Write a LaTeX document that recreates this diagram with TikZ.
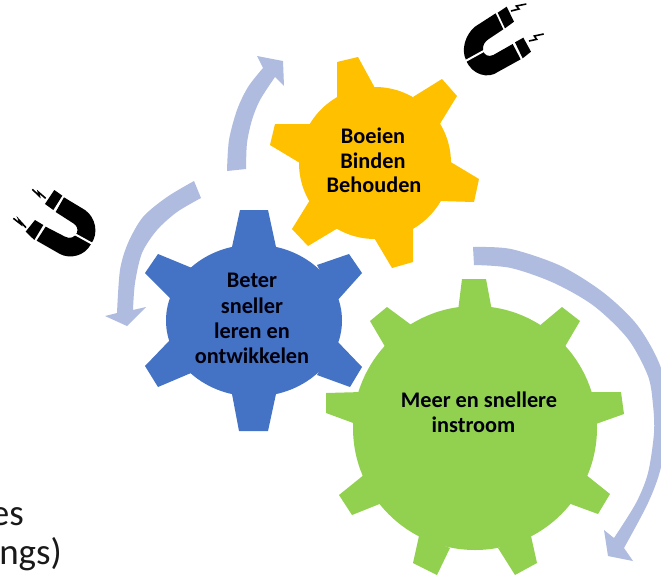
\documentclass[tikz,border=0pt]{standalone}
\usepackage{fontspec}
\setmainfont{Carlito}
\definecolor{gearyellow}{HTML}{FFC000}
\definecolor{gearblue}{HTML}{4472C4}
\definecolor{geargreen}{HTML}{92D050}
\definecolor{bandblue}{HTML}{AFBCDF}
\tikzset{
  gearlabel/.style={anchor=base,inner sep=0pt,font=\fontsize{22.3}{24}\selectfont\bfseries,text=black!95!blue},
  cutoff/.style={anchor=base east,inner sep=0pt,font=\fontsize{37}{40}\selectfont,text=black!90},
  band/.style={fill=bandblue},
  bolt/.style={draw=black,line width=1.6pt,line join=miter},
  polecut/.style={draw=white,line width=2pt}
}
\begin{document}
\begin{tikzpicture}[x=1pt,y=-1pt]
\useasboundingbox (0,0) rectangle (661,576);
\fill[white] (0,0) rectangle (661,576);
% arrows
\fill[band] plot[smooth] coordinates {(473,247) (511,249) (561,266) (604,293) (638,326) (661,368) (668,415) (661,467) (648,503) (624,548)}
  -- (633,561) -- (608,556) -- (604,530)
  -- plot[smooth] coordinates {(614,538) (636,503) (648,473) (654,433) (653,405) (648,376) (628,339) (594,306) (554,283) (511,268) (474,265)} -- cycle;
\fill[band] plot[smooth] coordinates {(227,171) (229,140) (237,110) (248,87) (263,68)}
  -- (257,56) -- (283,61) -- (284,86)
  -- plot[smooth] coordinates {(275,77) (260,100) (252,120) (247,143) (246,169)} -- cycle;
\fill[band] plot[smooth] coordinates {(194,181) (167,197) (143,217) (128,243) (120,270) (117,313)}
  -- (105,316) -- (127,326) -- (146,307)
  -- plot[smooth] coordinates {(133,310) (135,283) (142,253) (157,230) (177,212) (201,198)} -- cycle;
% yellow gear
\fill[gearyellow] (375,163) circle (76);
\fill[gearyellow] (337,100) -- (337,62) -- (358,57) -- (376,90) -- cycle;
\fill[gearyellow] (413,97) -- (442,79) -- (457,96) -- (438,127) -- cycle;
\fill[gearyellow] (449,161) -- (479,179) -- (474,202) -- (439,201) -- cycle;
\fill[gearyellow] (413,226) -- (413,262) -- (392,268) -- (373,236) -- cycle;
\fill[gearyellow] (310,200) -- (292,229) -- (308,246) -- (338,228) -- cycle;
\fill[gearyellow] (310,124) -- (275,124) -- (270,145) -- (300,163) -- cycle;
% blue gear
\fill[gearblue] (254,320.5) ellipse [x radius=88, y radius=76];
\fill[gearblue] (232,247) -- (240,210) -- (268,210) -- (276,247) -- cycle;
\fill[gearblue] (192,268) -- (158,254) -- (145,273) -- (172,300) -- cycle;
\fill[gearblue] (170,340) -- (145,366) -- (158,387) -- (191,373) -- cycle;
\fill[gearblue] (232,394) -- (239,431) -- (268,431) -- (276,394) -- cycle;
\fill[gearblue] (317,265) -- (349,254) -- (362,273) -- (336,302) -- cycle;
\fill[gearblue] (336,340) -- (362,367) -- (350,387) -- (317,375) -- cycle;
% green gear
\fill[geargreen] (475,428) circle (122);
\fill[geargreen] (458,311) -- (462,279) -- (486,279) -- (492,311) -- cycle;
\fill[geargreen] (538,327) -- (562,307) -- (580,321) -- (563,350) -- cycle;
\fill[geargreen] (586,392) -- (621,392) -- (624,414) -- (593,425) -- cycle;
\fill[geargreen] (585,474) -- (610,494) -- (598,514) -- (568,503) -- cycle;
\fill[geargreen] (531,536) -- (537,563) -- (515,575) -- (498,548) -- cycle;
\fill[geargreen] (450,548) -- (437,575) -- (413,563) -- (419,536) -- cycle;
\fill[geargreen] (382,503) -- (352,515) -- (339,495) -- (365,474) -- cycle;
\fill[geargreen] (356,424) -- (326,413) -- (326,393) -- (362,392) -- cycle;
\fill[geargreen] (387,350) -- (370,321) -- (387,307) -- (414,327) -- cycle;
% labels
\node[gearlabel] (boeien) at (373,143) {Boeien};
\node[gearlabel] (binden) at (373,168) {Binden};
\node[gearlabel] (behouden) at (374,192) {Behouden};
\node[gearlabel] (beter) at (252,287) {Beter};
\node[gearlabel] (sneller) at (252,313) {sneller};
\node[gearlabel] (leren) at (252,338) {leren en};
\node[gearlabel] (ontw) at (252,363) {ontwikkelen};
\node[gearlabel] (meer) at (479,407) {Meer en snellere};
\node[gearlabel] (instroom) at (473.5,432) {instroom};
\node[cutoff] (es) at (24,525) {es};
\node[cutoff] (ngs) at (62,564) {ngs)};
% left magnet
\begin{scope}[shift={(5,180)},x=0.3333pt,y=-0.3333pt]
  \fill[black] (120,72) -- (148,30) -- (172,47) -- (145,90) -- cycle;
  \fill[black] (62,155) -- (90,120) -- (115,135) -- (88,180) -- cycle;
  \fill[black] (177,52) -- (240,90) .. controls (272,112) and (282,160) .. (258,192)
     .. controls (240,228) and (195,238) .. (165,222) -- (95,182) -- (122,140) -- (180,170)
     .. controls (195,178) and (210,172) .. (216,158) .. controls (220,145) and (215,137) .. (205,130) -- (152,96) -- cycle;
  \draw[polecut] (205,160) -- (265,193);
  \draw[bolt] (82,28) -- (103,48) -- (100,36) -- (122,55);
  \draw[bolt] (25,115) -- (47,132) -- (42,120) -- (63,143);
\end{scope}
% right magnet
\begin{scope}[shift={(455,0)},x=0.3333pt,y=-0.3333pt]
  \fill[black] (128,38) -- (155,20) -- (177,65) -- (150,85) -- cycle;
  \fill[black] (180,127) -- (205,113) -- (228,155) -- (203,175) -- cycle;
  \fill[black] (122,40) -- (60,80) .. controls (30,105) and (18,150) .. (33,180)
     .. controls (50,225) and (100,238) .. (130,215) -- (197,178) -- (173,132) -- (115,165)
     .. controls (100,172) and (88,165) .. (84,152) .. controls (82,135) and (90,125) .. (100,118) -- (145,88) -- cycle;
  \draw[polecut] (28,185) -- (88,152);
  \draw[bolt] (168,33) -- (192,27) -- (184,18) -- (214,12);
  \draw[bolt] (222,123) -- (245,118) -- (238,108) -- (266,102);
\end{scope}
\end{tikzpicture}
\end{document}
